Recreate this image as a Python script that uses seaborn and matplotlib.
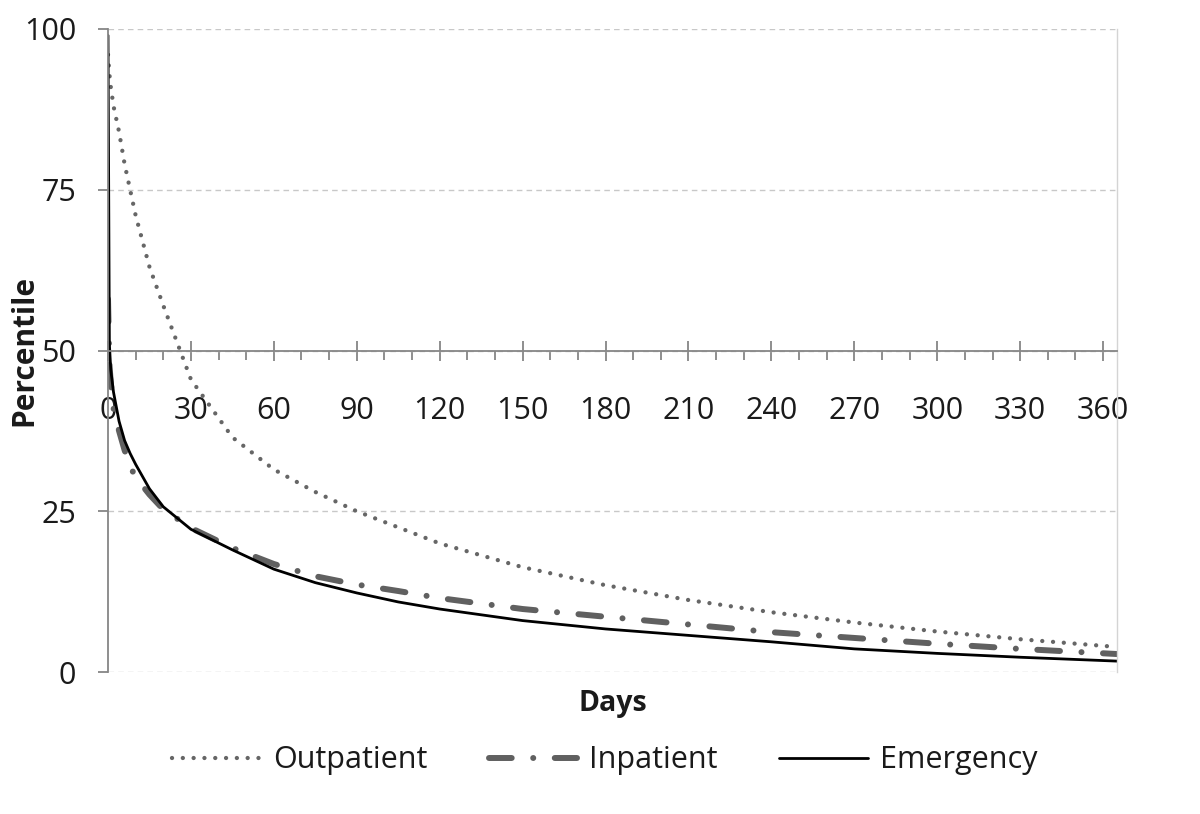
import numpy as np
import pandas as pd
import matplotlib
matplotlib.use("Agg")
import matplotlib.pyplot as plt
from matplotlib.ticker import MultipleLocator
import seaborn as sns

# values
days = [0, 0.5, 1, 2, 4, 6, 8, 10, 15, 20, 30, 45, 60, 75, 90, 105, 120,
        150, 180, 210, 240, 270, 300, 330, 365]
outpatient = [96, 93, 91, 88, 84, 79, 75, 71, 63, 57, 45.5, 36.5, 31.5, 28, 25,
              22.5, 20, 16.3, 13.5, 11.2, 9.3, 7.7, 6.3, 5.1, 3.9]
inpatient = [58, 48, 45, 41, 37.5, 34.5, 32, 30.3, 27.6, 25.3, 22.4, 19.3, 16.8,
             14.9, 13.6, 12.6, 11.5, 9.8, 8.6, 7.4, 6.2, 5.3, 4.4, 3.6, 2.8]
emergency = [99, 51, 47, 43.5, 39, 36, 34, 32.3, 28.5, 25.7, 22.2, 19, 16, 13.9,
             12.3, 10.9, 9.8, 8, 6.7, 5.7, 4.7, 3.6, 2.9, 2.3, 1.7]

df = pd.DataFrame({"days": days, "Outpatient": outpatient,
                   "Inpatient": inpatient, "Emergency": emergency})

sns.set_style("white")
plt.rcParams["font.family"] = ["Open Sans", "DejaVu Sans"]
text_col = "#1a1a1a"
axis_col = "#868686"

fig = plt.figure(figsize=(12, 8.14), dpi=100)
ax = fig.add_axes([0.09, 0.1744, 0.8408, 0.79])

sns.lineplot(data=df, x="days", y="Outpatient", ax=ax, color="#666666", lw=3.1,
             linestyle=(0, (0.01, 2.5)), dash_capstyle="round", label="Outpatient")
sns.lineplot(data=df, x="days", y="Inpatient", ax=ax, color="#606060", lw=4.3,
             linestyle=(0, (3.8, 3.6, 0.01, 3.6)), dash_capstyle="round",
             label="Inpatient")
sns.lineplot(data=df, x="days", y="Emergency", ax=ax, color="black", lw=2.0,
             label="Emergency")

ax.set_xlim(0, 365)
ax.set_ylim(0, 100)
ax.set_yticks([0, 25, 50, 75, 100])
ax.xaxis.set_major_locator(MultipleLocator(30))
ax.xaxis.set_minor_locator(MultipleLocator(10))
ax.set_xticks(range(0, 361, 30))

# gridlines
ax.grid(axis="y", color="#c8c8c8", linestyle=(0, (4, 3)), lw=1)
ax.set_axisbelow(True)

# spines: x axis crosses at 50
ax.spines["bottom"].set_position(("data", 50))
ax.spines["bottom"].set_color(axis_col)
ax.spines["bottom"].set_linewidth(1.3)
ax.spines["left"].set_color(axis_col)
ax.spines["left"].set_linewidth(1.3)
ax.spines["top"].set_visible(False)
ax.spines["right"].set_color("#d4d4d4")
ax.spines["right"].set_linewidth(1)

ax.tick_params(axis="x", which="major", direction="inout", length=14, width=1.3,
               color=axis_col, labelsize=22, labelcolor=text_col, pad=26,
               bottom=True)
ax.tick_params(axis="x", which="minor", direction="out", length=6.5, width=1.3,
               color=axis_col, bottom=True)
ax.tick_params(axis="y", direction="out", length=7, width=1.3, color=axis_col,
               labelsize=22, labelcolor=text_col, pad=16, left=True)

ax.set_xlabel("Days", fontsize=20.5, fontweight="bold", color=text_col)
ax.xaxis.set_label_coords(0.5, -0.026)
ax.set_ylabel("Percentile", fontsize=21.5, fontweight="bold", color=text_col)
ax.yaxis.set_label_coords(-0.068, 0.5)

ax.legend_.remove()
handles, labels = ax.get_legend_handles_labels()
fig.legend(handles, labels, loc="center", bbox_to_anchor=(0.504, 0.066), ncol=3,
           frameon=False, fontsize=22, handlelength=2.9, handletextpad=0.4,
           columnspacing=2.0, labelcolor=text_col)

fig.savefig("out.png", dpi=100)
